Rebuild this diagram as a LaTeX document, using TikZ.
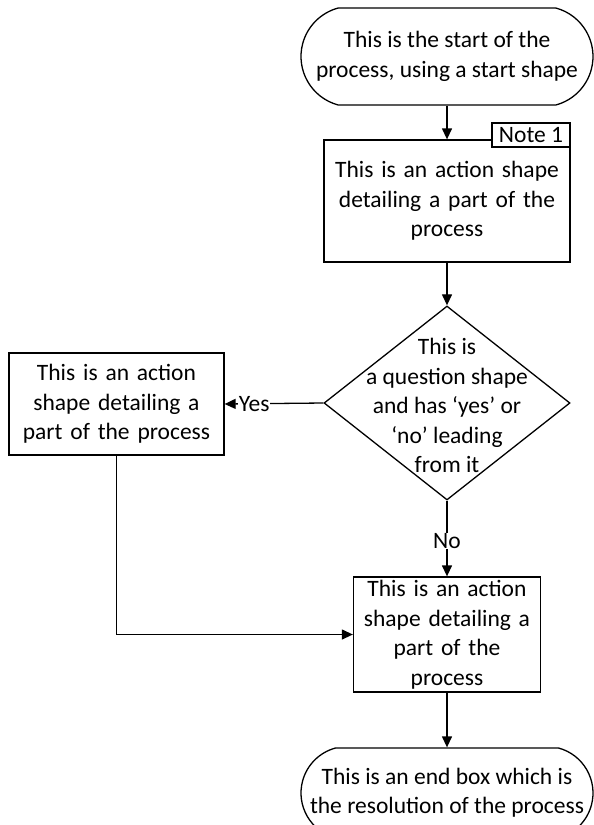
\documentclass[tikz,border=0pt]{standalone}
\usepackage{fontspec}
\setmainfont{Carlito}
\usetikzlibrary{positioning,shapes.geometric,shapes.misc,arrows.meta}

\begin{document}
\begin{tikzpicture}[x=1pt,y=-1pt,>={Triangle[length=11pt,width=10pt]},line width=1.3pt,
        font=\fontsize{23.5}{29.5}\selectfont,
        terminal/.style={draw,rounded rectangle,rounded rectangle arc length=150,minimum width=292pt,minimum height=97pt,inner sep=0pt},
        action/.style={draw,fill=white,inner sep=0pt,align=center},
        question/.style={draw,diamond,inner sep=0pt,minimum width=246pt,minimum height=194pt},
        notebox/.style={draw,fill=white,inner xsep=0pt,inner ysep=0pt,minimum width=78pt,minimum height=24pt},
        answer/.style={fill=white,inner sep=0.5pt}]
        \useasboundingbox (0,0) rectangle (594,825);
        \node[terminal] (start) at (447,56.5) {\makebox[0pt]{\raisebox{-4pt}{\begin{tabular}{@{}c@{}}This is the start of the\\process, using a start shape\end{tabular}}}};
        \node[action,minimum width=246pt,minimum height=122pt,text width=246pt] (act1) at (447,201) {This is an action shape\\detailing a part of the\\process};
        \node[notebox,anchor=north east,yshift=17pt] (note) at (act1.north east) {Note 1};
        \node[question] (quest) at (447,403) {\smash{\raisebox{-11pt}{\begin{tabular}{@{}c@{}}This is\\a question shape\\and has ‘yes’ or\\‘no’ leading\\from it\end{tabular}}}};
        \node[action,minimum width=215pt,minimum height=102pt,text width=215pt] (actyes) at (116.5,404) {This is an action\\shape detailing a\\part of the process};
        \node[action,minimum width=187pt,minimum height=115pt,text width=187pt] (actno) at (447,634.5) {This is an action\\shape detailing a\\part of the\\process};
        \node[terminal,minimum height=90pt] (stop) at (447,793) {\makebox[0pt]{\raisebox{-4pt}{\begin{tabular}{@{}c@{}}This is an end box which is\\the resolution of the process\end{tabular}}}};
        \draw[->] (start) -- (act1);
        \draw[->] (act1) -- (quest);
        \draw[->] (quest.west) -- node[answer,pos=0.7] (yes) {Yes} (actyes.east);
        \draw[->] (quest.south) -- node[answer,pos=0.53] (no) {No} (actno.north);
        \draw[->] (actyes.south) |- (actno.west);
        \draw[->] (actno) -- (stop);
    \end{tikzpicture}
\end{document}
